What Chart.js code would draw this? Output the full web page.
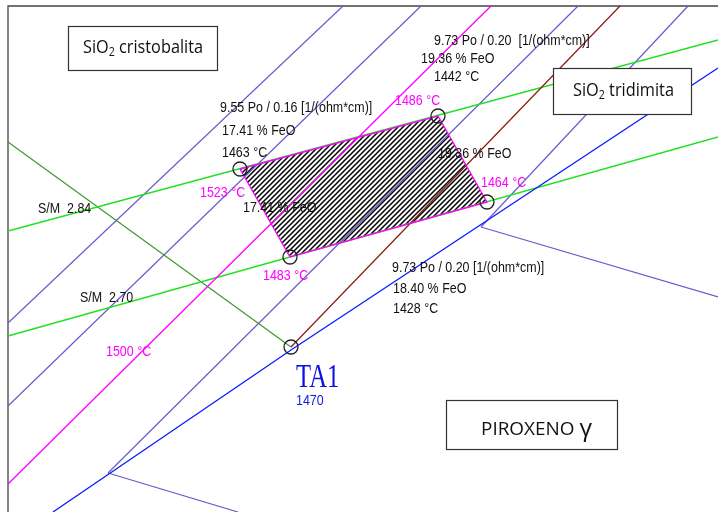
<!DOCTYPE html>
<html>
<head>
<meta charset="utf-8">
<script src="https://cdn.jsdelivr.net/npm/chart.js@4.4.1/dist/chart.umd.min.js"></script>
<style>
  html, body { margin: 0; padding: 0; background: #fff; }
  #wrap { width: 718px; height: 512px; }
</style>
</head>
<body>
<div id="wrap"><canvas id="c" width="718" height="512"></canvas></div>
<script>
// Diagram space: x 0..718 left→right, y 0..512 top→bottom (reversed axis)

var frame = [[8, 512], [8, 6], [718, 6]];

// iso-lines (slate blue)
var isoA = [[343, 6], [8, 323]];
var isoB = [[421, 6], [8, 406]];
var isoC = [[578, 6], [108, 473]];
var isoD = [[688, 6], [481, 227]];
var isoLowLeft = [[108, 473], [238, 512]];
var isoLowRight = [[481, 227], [718, 297]];

var iso1500 = [[491, 6], [8, 484]];
var brownLine = [[620, 6], [291, 347]];
var blueLine = [[53, 512], [291, 350], [718, 68]];
var sm284 = [[8, 231], [718, 40]];
var sm270 = [[8, 336], [718, 137]];
var darkGreen = [[8, 142], [291, 347]];

var region = [[240, 169], [438, 116], [487, 202], [290, 257], [240, 169]];
var markers = [[240, 169], [438, 116], [487, 202], [290, 257], [291, 347]];

var blackLabels = [
  [220, 108, "9.55 Po / 0.16 [1/(ohm*cm)]"],
  [222, 131, "17.41 % FeO"],
  [222, 153, "1463 °C"],
  [434, 41, "9.73 Po / 0.20  [1/(ohm*cm)]"],
  [421, 59, "19.36 % FeO"],
  [434, 77, "1442 °C"],
  [438, 154, "19.36 % FeO"],
  [243, 208, "17.41 % FeO"],
  [38, 209, "S/M  2.84"],
  [80, 298, "S/M  2.70"],
  [392, 268, "9.73 Po / 0.20 [1/(ohm*cm)]"],
  [393, 289, "18.40 % FeO"],
  [393, 309, "1428 °C"]
];
var tempLabels = [
  [395, 101, "1486 °C"],
  [481, 183, "1464 °C"],
  [200, 193, "1523 °C"],
  [263, 276, "1483 °C"],
  [106, 352, "1500 °C"]
];
var boxes = [
  { rect: [68, 26, 217, 70], parts: [["SiO"], ["2", 1], [" cristobalita"]], x: 83, y: 48, w: 120 },
  { rect: [553, 68, 691, 114], parts: [["SiO"], ["2", 1], [" tridimita"]], x: 573, y: 91, w: 101 },
  { rect: [446, 400, 617, 449], parts: [["PIROXENO "], ["γ", 2]], x: 481, y: 430, w: 111 }
];

function pts(arr) { return arr.map(function (p) { return { x: p[0], y: p[1] }; }); }

function hatch() {
  var s = 5, c = document.createElement("canvas");
  c.width = s; c.height = s;
  var g = c.getContext("2d");
  g.strokeStyle = "#000";
  g.lineWidth = 1.5;
  g.beginPath();
  g.moveTo(-1, s + 1); g.lineTo(s + 1, -1);
  g.moveTo(-1, 1); g.lineTo(1, -1);
  g.moveTo(s - 1, s + 1); g.lineTo(s + 1, s - 1);
  g.stroke();
  return g.createPattern(c, "repeat");
}

function line(data, color, width) {
  return { data: pts(data), showLine: true, borderColor: color, borderWidth: width || 1,
           pointRadius: 0, fill: false, tension: 0 };
}

var purple = "#6a5acd";
var datasets = [
  { data: pts(markers), showLine: false, pointRadius: 7, pointStyle: "circle",
    pointBorderColor: "#222", pointBackgroundColor: "rgba(0,0,0,0)", pointBorderWidth: 1.3 },
  line(region, "#ff00ff", 1.3),
  line(blueLine, "#0a1cff", 1.3),
  line(brownLine, "#8b1a10", 1.2),
  line(iso1500, "#ff00ff", 1.3),
  line(sm284, "#22e022", 1.3),
  line(sm270, "#22e022", 1.3),
  line(darkGreen, "#3d9a2a", 1.2),
  line(isoA, purple, 1.2), line(isoB, purple, 1.2), line(isoC, purple, 1.2), line(isoD, purple, 1.2),
  line(isoLowLeft, purple, 1.2), line(isoLowRight, purple, 1.2),
  line(frame, "#444", 1.3),
  { data: pts(region), showLine: true, borderWidth: 0, pointRadius: 0,
    fill: "shape", backgroundColor: hatch() }
];

function drawText(ctx, text, x, y, font, color, sx) {
  ctx.save();
  ctx.font = font;
  ctx.fillStyle = color;
  ctx.textBaseline = "middle";
  ctx.textAlign = "left";
  ctx.translate(x, y);
  ctx.scale(sx, 1);
  ctx.fillText(text, 0, 0);
  ctx.restore();
}

var annotations = {
  id: "annotations",
  afterDatasetsDraw: function (chart) {
    var ctx = chart.ctx, xs = chart.scales.x, ys = chart.scales.y;
    function px(v) { return xs.getPixelForValue(v); }
    function py(v) { return ys.getPixelForValue(v); }
    var small = '15px "Liberation Sans", Arial, sans-serif';

    blackLabels.forEach(function (l) { drawText(ctx, l[2], px(l[0]), py(l[1]), small, "#111", 0.83); });
    tempLabels.forEach(function (l) { drawText(ctx, l[2], px(l[0]), py(l[1]), small, "#ff00ff", 0.83); });

    drawText(ctx, "TA1", px(296), py(378), '33px "Liberation Serif", "Times New Roman", serif', "#0a10e0", 0.75);
    drawText(ctx, "1470", px(296), py(401), small, "#1020e0", 0.83);

    // labelled boxes
    boxes.forEach(function (b) {
      var x0 = px(b.rect[0]), y0 = py(b.rect[1]), x1 = px(b.rect[2]), y1 = py(b.rect[3]);
      ctx.save();
      ctx.fillStyle = "#fff";
      ctx.fillRect(x0, y0, x1 - x0, y1 - y0);
      ctx.strokeStyle = "#333";
      ctx.lineWidth = 1.2;
      ctx.strokeRect(x0 + 0.5, y0 + 0.5, x1 - x0, y1 - y0);
      var big = 18, fam = '"Open Sans", "Noto Sans", sans-serif';
      var total = 0;
      b.parts.forEach(function (p) {
        ctx.font = (p[1] === 1 ? big * 0.65 : p[1] === 2 ? big * 1.3 : big) + "px " + fam;
        total += ctx.measureText(p[0]).width;
      });
      var sx = b.w / total, cx = px(b.x);
      b.parts.forEach(function (p) {
        var size = p[1] === 1 ? big * 0.65 : p[1] === 2 ? big * 1.3 : big;
        var font = size + "px " + fam;
        ctx.font = font;
        var w = ctx.measureText(p[0]).width;
        drawText(ctx, p[0], cx, py(b.y) + (p[1] === 1 ? 5 : p[1] === 2 ? -1 : 0), font, "#111", sx);
        cx += w * sx;
      });
      ctx.restore();
    });
  }
};

new Chart(document.getElementById("c"), {
  type: "scatter",
  data: { datasets: datasets },
  options: {
    responsive: false,
    animation: false,
    layout: { padding: 0, autoPadding: false },
    plugins: { legend: { display: false }, tooltip: { enabled: false } },
    scales: {
      x: { type: "linear", min: 0, max: 718, display: false },
      y: { type: "linear", min: 0, max: 512, reverse: true, display: false }
    }
  },
  plugins: [annotations]
});
</script>
</body>
</html>
